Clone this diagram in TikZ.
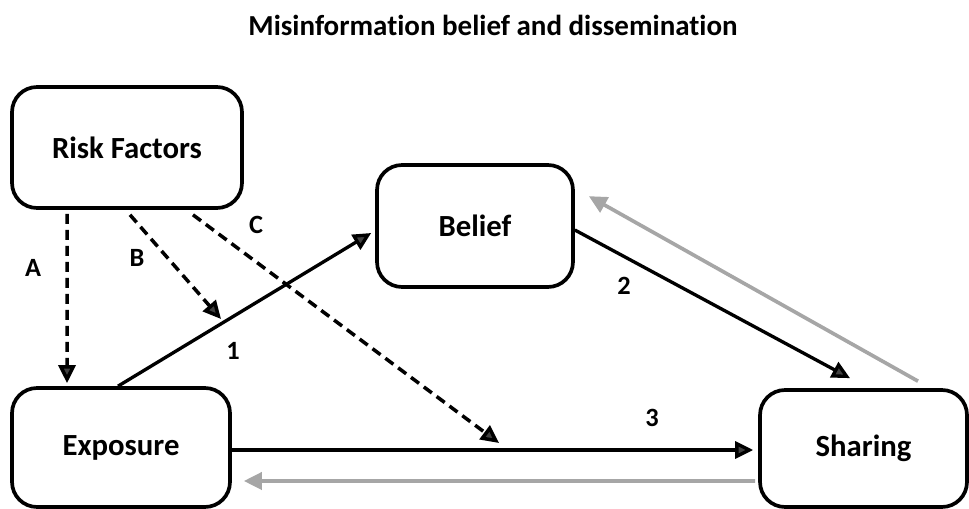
\documentclass[tikz,border=0pt]{standalone}
\usepackage{fontspec}
\setmainfont[Ligatures={NoCommon,NoContextual}]{Carlito}
\usetikzlibrary{calc,arrows.meta}
\tikzset{
	boxnode/.style={draw, line width=2.1pt, rounded corners=0.5cm, align=center, font=\fontsize{17.5}{20}\selectfont\bfseries},
	lbl/.style={font=\fontsize{15}{17}\selectfont\bfseries},
	tip/.style={-{Triangle[length=0.36cm,width=0.34cm,fill=black!75]}},
	blackarrow/.style={tip, line width=1.9pt},
	dasharrow/.style={tip, line width=2pt, dash pattern=on 0.2cm off 0.12cm},
	grayarrow/.style={-{Triangle[length=0.36cm,width=0.34cm,fill=black!35]}, draw=black!35, line width=2.1pt}
}

\begin{document}
\begin{tikzpicture}[x=0.02cm, y=-0.02cm]
				\useasboundingbox (0,0) rectangle (969,509);
				
				\node[font=\fontsize{16.5}{20}\selectfont\bfseries] (title) at (493,25) {Misinformation belief and dissemination};
				
				\node[boxnode, minimum width=4.6cm, minimum height=2.42cm] (risk) at (127,147.5) {Risk Factors};
				\node[boxnode, minimum width=3.92cm, minimum height=2.44cm] (belief) at (475,226) {Belief};
				\node[boxnode, minimum width=4.36cm, minimum height=2.38cm] (exposure) at (121,447.5) {Exposure};
				\node[boxnode, minimum width=4.14cm, minimum height=2.34cm] (sharing) at (863.5,448.5) {Sharing};
				
				\coordinate (bend) at (221,319);
				\coordinate (cend) at (499,443);
				
				\draw[dasharrow] ([xshift=-1.2cm,yshift=-0.08cm]risk.south) -- ([xshift=-1.08cm,yshift=0.06cm]exposure.north);
				\draw[dasharrow] ([xshift=0.06cm,yshift=-0.1cm]risk.south) -- (bend);
				\draw[dasharrow] ([xshift=1.32cm,yshift=-0.1cm]risk.south) -- (cend);
				
				\draw[blackarrow] ([xshift=-0.06cm]exposure.north) -- ([xshift=-0.08cm,yshift=-0.14cm]belief.west);
				\draw[blackarrow] ([yshift=-0.08cm]belief.east) -- ([xshift=-0.27cm,yshift=0.2cm]sharing.north);
				\draw[blackarrow] ([yshift=-0.05cm]exposure.east) -- ([xshift=-0.1cm,yshift=-0.03cm]sharing.west);
				
				\draw[grayarrow] ([xshift=1.09cm,yshift=0.14cm]sharing.north) -- ([xshift=0.28cm,yshift=-0.66cm]belief.north east);
				\draw[grayarrow] ([xshift=-0.06cm,yshift=-0.65cm]sharing.west) -- ([xshift=0.24cm,yshift=-0.67cm]exposure.east);
				
				\node[lbl] (la) at (33,268) {A};
				\node[lbl] (lb) at (137,258) {B};
				\node[lbl] (lc) at (256,225) {C};
				\node[lbl] (l1) at (233,351) {1};
				\node[lbl] (l2) at (624,286) {2};
				\node[lbl] (l3) at (652,418) {3};
			\end{tikzpicture}
\end{document}
